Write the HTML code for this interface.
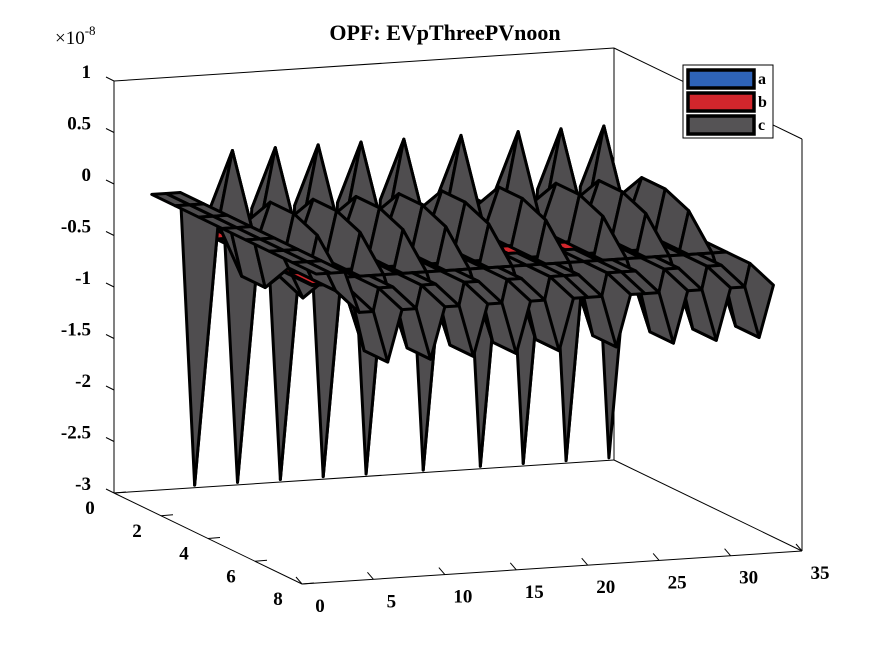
<!DOCTYPE html>
<html><head><meta charset="utf-8"><style>
body{margin:0;background:#fff}
svg text{font-family:"Liberation Serif",serif;font-weight:bold;fill:#000}
</style></head><body>
<svg id="chart" width="875" height="656" viewBox="0 0 875 656" xmlns="http://www.w3.org/2000/svg">
<rect width="875" height="656" fill="#fff"/>
<text x="445" y="40" font-size="22" text-anchor="middle">OPF: EVpThreePVnoon</text>
<text x="55" y="44" font-size="19" style="font-weight:normal">×10<tspan font-size="13" dy="-9">-8</tspan></text>
<g id="axes"></g>
<g id="surf"></g>
<g id="legend">
<rect x="683" y="65" width="90" height="73" fill="#fff" stroke="#000" stroke-width="1"/>
<rect x="688" y="70" width="66" height="18" fill="#2e63b8" stroke="#000" stroke-width="3.5"/>
<text x="758" y="84" font-size="16">a</text>
<rect x="688" y="93" width="66" height="18" fill="#d2262c" stroke="#000" stroke-width="3.5"/>
<text x="758" y="107" font-size="16">b</text>
<rect x="688" y="116" width="66" height="18" fill="#555355" stroke="#000" stroke-width="3.5"/>
<text x="758" y="130" font-size="16">c</text>
</g>
</svg>
<script>
const zTicks=[1,0.5,0,-0.5,-1,-1.5,-2,-2.5,-3];
const zTickLabels=["1","0.5","0","-0.5","-1","-1.5","-2","-2.5","-3"];
const xTicks=[0,5,10,15,20,25,30,35];
const yTicks=[0,2,4,6,8];
const xCats=[1,2,3,4,5,6,7,8,9,10,11,12,13,14,15,16,17,18,19,20,21,22,23,24,25,26,27,28,29,30,31,32,33];
const yCats=[1,2,3,4,5,6,7,8];
const seriesC=[
[0,0,0,-2.85,-0.2,-0.2,-2.85,-0.2,-0.2,-2.85,-0.2,-0.2,-2.85,-0.2,-0.2,-2.85,-0.2,-0.2,-0.2,-2.85,-0.2,-0.2,-0.2,-2.85,-0.2,-0.2,-2.85,-0.2,-0.2,-2.85,-0.2,-0.2,-2.85],
[0,0,0,-0.2,0.5,-0.2,-0.2,0.5,-0.2,-0.2,0.5,-0.2,-0.2,0.5,-0.2,-0.2,0.5,-0.2,-0.2,-0.2,0.5,-0.2,-0.2,-0.2,0.5,-0.2,-0.2,0.5,-0.2,-0.2,0.5,-0.2,-0.2],
[0,0,0,-0.6,-0.3,0.1,-0.6,-0.3,0.1,-0.6,-0.3,0.1,-0.6,-0.3,0.1,-0.6,-0.3,0.1,-0.3,-0.6,-0.3,0.1,-0.3,-0.6,-0.3,0.1,-0.6,-0.3,0.1,-0.6,-0.3,0.1,-0.3],
[0,0,0,-0.6,-0.5,0.1,-0.6,-0.5,0.1,-0.6,-0.5,0.1,-0.6,-0.5,0.1,-0.6,-0.5,0.1,-0.2,-0.6,-0.5,0.1,-0.2,-0.6,-0.5,0.1,-0.6,-0.5,0.1,-0.6,-0.5,0.1,-0.2],
[0,0,0,-0.3,-0.6,0.0,-0.3,-0.6,0.0,-0.3,-0.6,0.0,-0.3,-0.6,0.0,-0.3,-0.6,0.0,-0.3,-0.3,-0.6,0.0,-0.3,-0.3,-0.6,0.0,-0.3,-0.6,0.0,-0.3,-0.6,0.0,-0.3],
[0,0,0,-0.3,-0.3,-0.3,-0.3,-0.3,-0.3,-0.3,-0.3,-0.3,-0.3,-0.3,-0.3,-0.3,-0.3,-0.3,-0.3,-0.3,-0.3,-0.3,-0.3,-0.3,-0.3,-0.3,-0.3,-0.3,-0.3,-0.3,-0.3,-0.3,-0.3],
[0,0,0,-0.3,-0.3,-0.9,-0.3,-0.3,-0.9,-0.3,-0.3,-0.9,-0.3,-0.3,-0.9,-0.3,-0.3,-0.9,-0.3,-0.3,-0.3,-0.9,-0.3,-0.3,-0.3,-0.9,-0.3,-0.3,-0.9,-0.3,-0.3,-0.9,-0.3],
[0,0,0,-0.4,-0.4,-0.9,-0.4,-0.4,-0.9,-0.4,-0.4,-0.9,-0.4,-0.4,-0.9,-0.4,-0.4,-0.9,-0.4,-0.4,-0.4,-0.9,-0.4,-0.4,-0.4,-0.9,-0.4,-0.4,-0.9,-0.4,-0.4,-0.9,-0.4]];
const seriesBLevel=[-0.35,-0.35,-0.35,-0.35,-0.35,-0.35,-0.35,-0.35];
const seriesALevel=[-0.36,-0.36,-0.36,-0.36,-0.36,-0.36,-0.36,-0.36];
const redXMin=4;
const redXMax=31;
const redYMax=6;

const NS="http://www.w3.org/2000/svg";
function P(x,y,z){return [114+x*500/35+y*188/8, 493-x*33/35+y*91/8-(z+3)*103];}
function mk(tag,attrs,parent){const e=document.createElementNS(NS,tag);for(const k in attrs)e.setAttribute(k,attrs[k]);parent.appendChild(e);return e;}
const ax=document.getElementById('axes');
function line(a,b,name){const l=mk('line',{x1:a[0],y1:a[1],x2:b[0],y2:b[1],stroke:'#000','stroke-width':1},ax);

}
line(P(0,0,-3),P(0,0,1),'back-left-edge');
line(P(0,0,1),P(35,0,1),'back-top-edge');
line(P(35,0,-3),P(35,0,1),'back-right-edge');
line(P(0,0,-3),P(35,0,-3),'back-bottom-edge');
line(P(35,0,1),P(35,8,1),'right-top-edge');
line(P(35,8,-3),P(35,8,1),'front-right-edge');
line(P(35,0,-3),P(35,8,-3),'right-bottom-edge');
line(P(0,0,-3),P(0,8,-3),'y-axis-line');
line(P(0,8,-3),P(35,8,-3),'x-axis-line');
zTicks.forEach((z,i)=>{const p=P(0,0,z);line([p[0]-8,p[1]-4],p,'z-tick');
const t=mk('text',{x:p[0]-23,y:p[1]-3,'font-size':19,'text-anchor':'end'},ax);t.textContent=zTickLabels[i];

});
xTicks.forEach(x=>{const p=P(x,8,-3);line(p,[p[0]-6,p[1]-7],'x-tick');
const t=mk('text',{x:p[0]+18,y:p[1]+28,'font-size':19,'text-anchor':'middle'},ax);t.textContent=x;

});
yTicks.forEach(y=>{const p=P(0,y,-3);line(p,[p[0]+12,p[1]-1],'y-tick');
const t=mk('text',{x:p[0]-24,y:p[1]+21,'font-size':19,'text-anchor':'middle'},ax);t.textContent=y;

});

const sg=document.getElementById('surf');
const quads=[];
function addSurf(getZ,color,name,xmin,xmax,ymax){
for(let j=0;j<yCats.length-1;j++)for(let i=0;i<xCats.length-1;i++){
const x0=xCats[i],x1=xCats[i+1],y0=yCats[j],y1=yCats[j+1];
if(x0<xmin||x1>xmax||y1>ymax)continue;
const zs=[getZ(j,i),getZ(j,i+1),getZ(j+1,i+1),getZ(j+1,i)];
const pts=[P(x0,y0,zs[0]),P(x1,y0,zs[1]),P(x1,y1,zs[2]),P(x0,y1,zs[3])];
quads.push({d:(y0+y1)/2-0.06*(x0+x1)/2,mz:(zs[0]+zs[1]+zs[2]+zs[3])/4,pts,color,name});}}
addSurf((j,i)=>seriesALevel[j],'#2e63b8','surface-a-patch',redXMin,redXMax,redYMax);
addSurf((j,i)=>seriesBLevel[j],'#d2262c','surface-b-patch',redXMin,redXMax,redYMax);
addSurf((j,i)=>seriesC[j][i],'#4f4d4f','surface-c-patch',0,99,99);
quads.sort((a,b)=>(a.d-b.d)||(a.mz-b.mz));
quads.forEach(q=>{const p=mk('polygon',{points:q.pts.map(v=>v.join(',')).join(' '),fill:q.color,stroke:'#000','stroke-width':3,'stroke-linejoin':'round'},sg);

});
</script>
</body></html>
